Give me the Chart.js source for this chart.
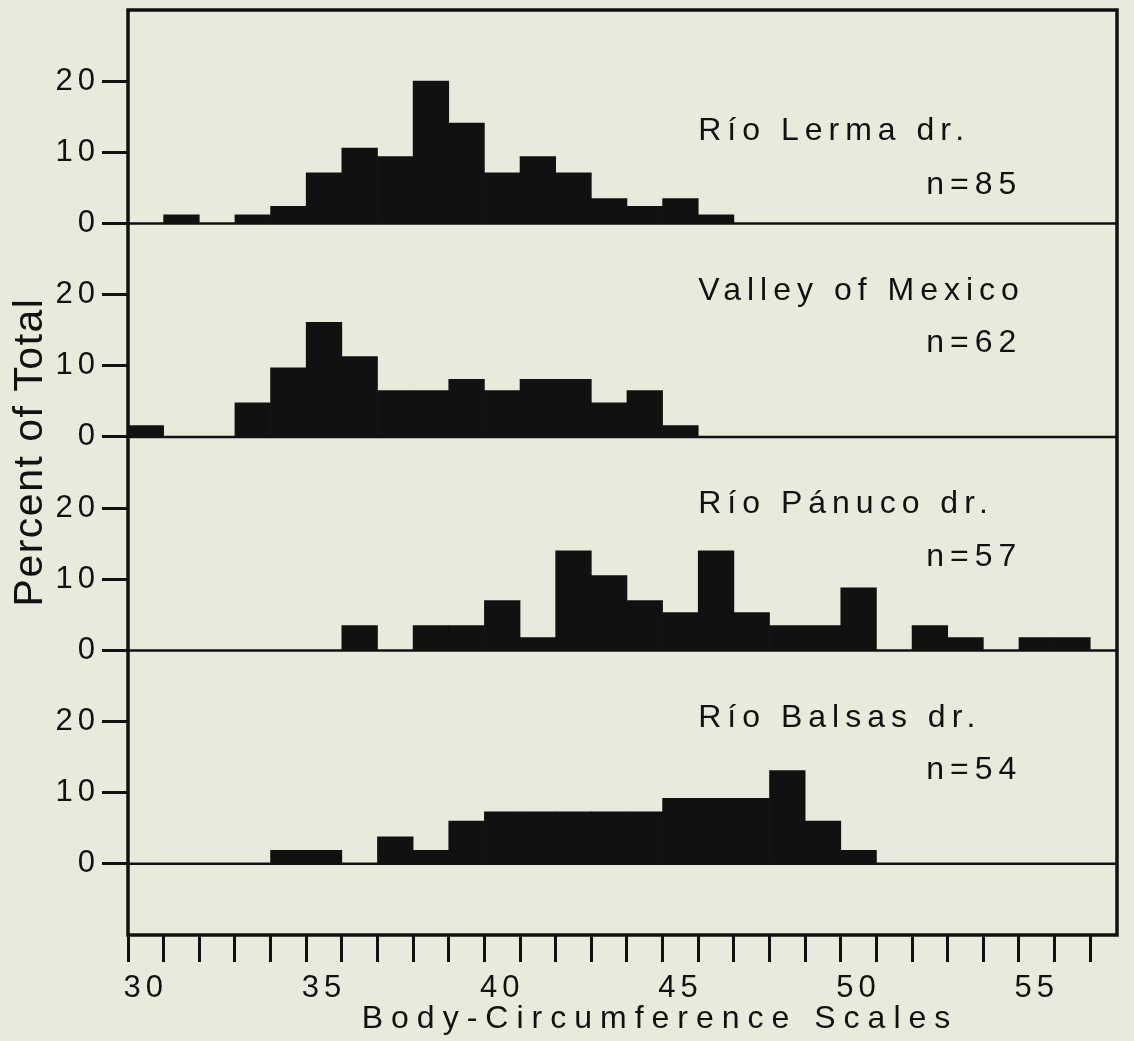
<!DOCTYPE html>
<html>
<head>
<meta charset="utf-8">
<style>
  html, body { margin: 0; padding: 0; background: #eaeadc; }
  #chart { display: block; }
</style>
<script src="https://cdn.jsdelivr.net/npm/chart.js@4.4.1/dist/chart.umd.min.js"></script>
</head>
<body>
<canvas id="chart" width="1134" height="1041"></canvas>
<script>
// scale counts (bin centres)
const bins = [30, 31, 32, 33, 34, 35, 36, 37, 38, 39, 40, 41, 42, 43, 44, 45, 46, 47, 48, 49, 50, 51, 52, 53, 54, 55, 56];

// percent of total per bin
const lerma   = [0, 1.2, 0, 1.2, 2.4, 7.1, 10.6, 9.4, 20.0, 14.1, 7.1, 9.4, 7.1, 3.5, 2.4, 3.5, 1.2, 0, 0, 0, 0, 0, 0, 0, 0, 0, 0];
const valley  = [1.6, 0, 0, 4.8, 9.7, 16.1, 11.3, 6.5, 6.5, 8.1, 6.5, 8.1, 8.1, 4.8, 6.5, 1.6, 0, 0, 0, 0, 0, 0, 0, 0, 0, 0, 0];
const panuco  = [0, 0, 0, 0, 0, 0, 3.5, 0, 3.5, 3.5, 7.0, 1.8, 14.0, 10.5, 7.0, 5.3, 14.0, 5.3, 3.5, 3.5, 8.8, 0, 3.5, 1.8, 0, 1.8, 1.8];
const balsas  = [0, 0, 0, 0, 1.9, 1.9, 0, 3.8, 1.9, 6.0, 7.3, 7.3, 7.3, 7.3, 7.3, 9.2, 9.2, 9.2, 13.1, 6.0, 1.9, 0, 0, 0, 0, 0, 0];

const xTickLabels = [30, 35, 40, 45, 50, 55];
const yTickLabels = [0, 10, 20];

const panelNames = ['Río Lerma dr.', 'Valley of Mexico', 'Río Pánuco dr.', 'Río Balsas dr.'];
const panelN     = ['n=85', 'n=62', 'n=57', 'n=54'];

const ink = '#111';
const fontFam = "'Liberation Sans', Arial, sans-serif";
const xMin = bins[0] - 0.5;
const xMax = 57.25;

// one y axis per panel, stacked on the left
function panelAxis(min, max) {
  return {
    type: 'linear',
    position: 'left',
    stack: 'panels',
    stackWeight: max - min,
    min: min,
    max: max,
    afterBuildTicks: (s) => { s.ticks = yTickLabels.map(v => ({ value: v })); },
    afterFit: (s) => { s.width = 128; s.paddingTop = 0; s.paddingBottom = 0; },
    border: { display: false },
    grid: { drawOnChartArea: false, tickLength: 26, tickWidth: 3, tickColor: ink, color: ink },
    ticks: { color: ink, font: { family: fontFam, size: 31 }, padding: 2 }
  };
}

// panel text heights (title, n) in data units
const labelPos = [
  [11.8, 4.1],
  [19.3, 11.9],
  [19.3, 11.9],
  [19.3, 11.9]
];
const panelIds = ['yLerma', 'yValley', 'yPanuco', 'yBalsas'];

const framePlugin = {
  id: 'frame',
  beforeDraw(chart) {
    chart.ctx.letterSpacing = '5px';
  },
  afterDatasetsDraw(chart) {
    const { ctx, chartArea: a, scales } = chart;
    ctx.save();
    ctx.strokeStyle = ink;
    ctx.fillStyle = ink;

    // baselines of each panel
    ctx.lineWidth = 2.5;
    panelIds.forEach(id => {
      const y = scales[id].getPixelForValue(0);
      ctx.beginPath();
      ctx.moveTo(a.left, y);
      ctx.lineTo(a.right, y);
      ctx.stroke();
    });

    // outer frame
    ctx.lineWidth = 3.5;
    ctx.strokeRect(a.left, a.top, a.right - a.left, a.bottom - a.top);

    // panel labels
    ctx.font = '32px ' + fontFam;
    ctx.letterSpacing = '6px';
    ctx.textAlign = 'left';
    ctx.textBaseline = 'alphabetic';
    panelIds.forEach((id, i) => {
      const ys = scales[id];
      ctx.fillText(panelNames[i], scales.x.getPixelForValue(45.5), ys.getPixelForValue(labelPos[i][0]));
      ctx.fillText(panelN[i], scales.x.getPixelForValue(51.9), ys.getPixelForValue(labelPos[i][1]));
    });

    // axis titles
    ctx.font = '32px ' + fontFam;
    ctx.letterSpacing = '8px';
    ctx.textAlign = 'center';
    ctx.fillText('Body-Circumference Scales', 660, 1028);

    ctx.save();
    ctx.translate(42, 452);
    ctx.rotate(-Math.PI / 2);
    ctx.font = '41px ' + fontFam;
    ctx.letterSpacing = '1.5px';
    ctx.textAlign = 'center';
    ctx.fillText('Percent of Total', 0, 0);
    ctx.restore();

    ctx.restore();
  }
};

const barStyle = {
  backgroundColor: ink,
  borderWidth: 0,
  barPercentage: 1,
  categoryPercentage: 1,
  grouped: false
};

const chart = new Chart(document.getElementById('chart'), {
  type: 'bar',
  data: {
    labels: bins,
    datasets: [
      Object.assign({ label: panelNames[0], data: lerma, yAxisID: 'yLerma' }, barStyle),
      Object.assign({ label: panelNames[1], data: valley, yAxisID: 'yValley' }, barStyle),
      Object.assign({ label: panelNames[2], data: panuco, yAxisID: 'yPanuco' }, barStyle),
      Object.assign({ label: panelNames[3], data: balsas, yAxisID: 'yBalsas' }, barStyle)
    ]
  },
  options: {
    responsive: false,
    devicePixelRatio: 1,
    animation: false,
    layout: { padding: { left: 0, top: 10, right: 17, bottom: 0 } },
    plugins: { legend: { display: false }, tooltip: { enabled: false } },
    scales: {
      x: {
        type: 'linear',
        position: 'bottom',
        offset: false,
        min: xMin,
        max: xMax,
        afterBuildTicks: (s) => {
          s.ticks = bins.map(b => ({ value: b - 0.5 })).concat([{ value: bins[bins.length - 1] + 0.5 }]);
        },
        afterFit: (s) => { s.height = 27; s.paddingLeft = 0; s.paddingRight = 0; },
        border: { display: false },
        grid: { offset: false, drawOnChartArea: false, tickLength: 27, tickWidth: 3, tickColor: ink, color: ink },
        ticks: { display: false }
      },
      xLab: {
        type: 'linear',
        position: 'bottom',
        offset: false,
        min: xMin,
        max: xMax,
        afterBuildTicks: (s) => { s.ticks = xTickLabels.map(v => ({ value: v })); },
        afterFit: (s) => { s.height = 79; s.paddingLeft = 0; s.paddingRight = 0; },
        border: { display: false },
        grid: { display: false, drawTicks: false, tickLength: 0 },
        ticks: { color: ink, font: { family: fontFam, size: 31 }, padding: 8, autoSkip: false, maxRotation: 0 }
      },
      yBalsas: panelAxis(-10, 30),
      yPanuco: panelAxis(0, 30),
      yValley: panelAxis(0, 30),
      yLerma: panelAxis(0, 30)
    }
  },
  plugins: [framePlugin]
});
</script>
</body>
</html>
